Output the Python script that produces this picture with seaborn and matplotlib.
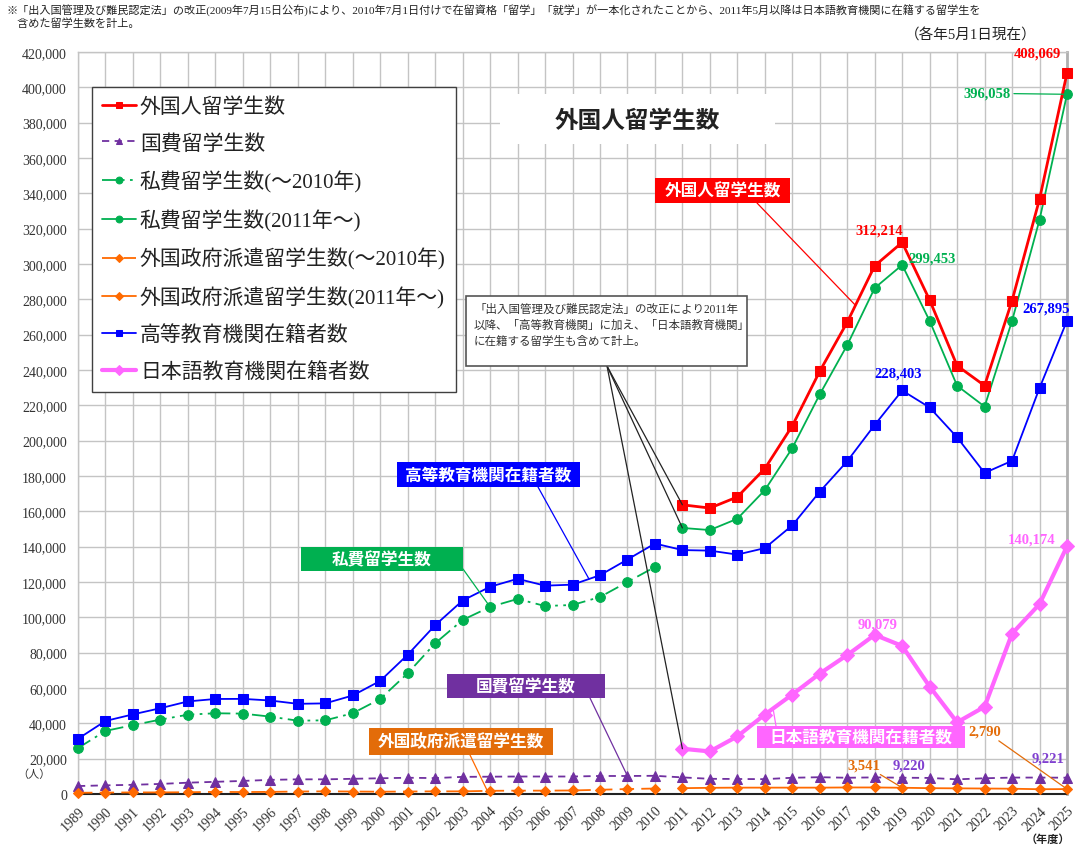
import numpy as np
import pandas as pd
import matplotlib
matplotlib.use("Agg")
import matplotlib.pyplot as plt
import seaborn as sns
from matplotlib.patches import Rectangle
from matplotlib.ticker import FuncFormatter

# ---------------- data ----------------
years = list(range(1989, 2026))
years_pre = list(range(1989, 2011))
years_post = list(range(2011, 2026))

total = [163697, 161848, 168145, 184155, 208379, 239287, 267042, 298980,
         312214, 279597, 242444, 231146, 279274, 336708, 408069]

kokuhi = [4500, 4900, 5200, 5700, 6400, 6900, 7400, 8000, 8300, 8300, 8600,
          8900, 9200, 9000, 9700, 9800, 9900, 9900, 9900, 10200, 10200, 10300,
          9400, 8600, 8500, 8400, 9200, 9500, 9200, 9400, 9220, 9100, 8300,
          8900, 9300, 9300, 9221]

shihi_pre = [26000, 35700, 39000, 42100, 44900, 45700, 45500, 43800, 41500,
             41700, 45700, 53800, 68300, 85300, 98500, 105900, 110400, 106400,
             107000, 111500, 120000, 128500]
shihi_post = [150600, 149400, 155800, 172000, 195800, 226200, 254100, 286400,
              299453, 267800, 231100, 219300, 267800, 325000, 396058]

seifu_pre = [700, 800, 900, 900, 1000, 1200, 1100, 1200, 1400, 1500, 1400,
             1300, 1400, 1500, 1500, 1800, 1900, 1900, 2000, 2400, 2800, 3100]
seifu_post = [3300, 3500, 3600, 3600, 3600, 3600, 3700, 3700, 3541, 3300,
              3200, 3100, 3000, 2700, 2790]

koutou = [31251, 41347, 45066, 48561, 52405, 53787, 53847, 52921, 51047,
          51298, 55755, 64011, 78812, 95550, 109508, 117302, 121812, 117927,
          118498, 123829, 132720, 141774, 138075, 137756, 135519, 139185,
          152062, 171122, 188384, 208901, 228403, 218783, 201877, 181741,
          188600, 229800, 267895]

nihongo = [25622, 24092, 32626, 44970, 56317, 68165, 78658, 90079, 83811,
           60814, 40567, 49405, 90800, 107500, 140174]

labels = ["外国人留学生数", "国費留学生数", "私費留学生数(〜2010年)",
          "私費留学生数(2011年〜)", "外国政府派遣留学生数(〜2010年)",
          "外国政府派遣留学生数(2011年〜)", "高等教育機関在籍者数",
          "日本語教育機関在籍者数"]

# ---------------- style ----------------
sns.set_theme(style="white")
plt.rcParams["font.family"] = ["Liberation Serif", "Noto Sans CJK JP", "DejaVu Sans"]
CJK = ["Noto Sans CJK JP", "DejaVu Sans"]

RED = "#FF0000"
PURPLE = "#7030A0"
GREEN = "#00B050"
ORANGE = "#FF6A00"
BLUE = "#0000FF"
PINK = "#FF66FF"

W, H = 1080, 854
fig = plt.figure(figsize=(W / 100, H / 100), dpi=100)
AX_L, AX_R, AX_T, AX_B = 78, 1067, 53, 795
ax = fig.add_axes([AX_L / W, 1 - AX_B / H, (AX_R - AX_L) / W, (AX_B - AX_T) / H])


def fx(px):
    return px / W


def fy(py):
    return 1 - py / H


def line(x, y, color, marker, ms, lw, ls, label, z=3):
    sns.lineplot(x=x, y=y, ax=ax, color=color, marker=marker, markersize=ms,
                 markeredgecolor=color, markerfacecolor=color,
                 linewidth=lw, linestyle=ls, label=label, errorbar=None,
                 clip_on=False, zorder=z, sort=False)


line(years_post, total, RED, "s", 7, 2.0, "-", labels[0], 4)
line(years, kokuhi, PURPLE, "^", 7, 1.3, (0, (4, 3)), labels[1], 3)
line(years_pre, shihi_pre, GREEN, "o", 7, 1.3, (0, (8, 3, 1.5, 3, 1.5, 3)), labels[2], 3)
line(years_post, shihi_post, GREEN, "o", 7, 1.3, "-", labels[3], 3)
line(years_pre, seifu_pre, ORANGE, "D", 5.5, 1.3, (0, (8, 4)), labels[4], 3)
line(years_post, seifu_post, ORANGE, "D", 5.5, 1.3, "-", labels[5], 3)
line(years, koutou, BLUE, "s", 7, 1.3, "-", labels[6], 3)
line(years_post, nihongo, PINK, "D", 7, 3.0, "-", labels[7], 3)

# ---------------- axes ----------------
ax.set_xlim(1989, 2025)
ax.set_ylim(0, 420000)
ax.set_xticks(years)
ax.set_yticks(np.arange(0, 420001, 20000))
ax.yaxis.set_major_formatter(FuncFormatter(lambda v, p: f"{int(v):,}"))
ax.set_xlabel("")
ax.set_ylabel("")
ax.grid(True, color="#C4C4C4", lw=1)
ax.set_axisbelow(True)
ax.tick_params(axis="both", length=0, labelsize=10, colors="#333333")
ax.tick_params(axis="x", pad=7)
ax.tick_params(axis="y", pad=8)
for t in ax.get_xticklabels():
    t.set_rotation(45)
    t.set_ha("right")
    t.set_rotation_mode("anchor")
for s in ["left", "top"]:
    ax.spines[s].set_color("#C4C4C4")
    ax.spines[s].set_linewidth(1)
ax.spines["right"].set_color("#B0B0B0")
ax.spines["right"].set_linewidth(2)
ax.spines["bottom"].set_color("#222222")
ax.spines["bottom"].set_linewidth(1.5)

# ---------------- legend ----------------
handles = {l.get_label(): l for l in ax.get_lines()}
leg = ax.legend([handles[l] for l in labels], labels, loc="upper left",
                bbox_to_anchor=((92 - AX_L) / (AX_R - AX_L), (AX_B - 88) / (AX_B - AX_T)),
                borderaxespad=0, prop={"size": 15}, labelspacing=0.8,
                handlelength=1.6, handletextpad=0.2, borderpad=0.5,
                fancybox=False, framealpha=1, edgecolor="#404040",
                markerscale=0.7)
leg.get_frame().set_linewidth(1.0)
leg.set_zorder(10)
for t in leg.get_texts():
    t.set_color("#222222")


# ---------------- boxes & annotations ----------------
def box(x0, y0, x1, y1, fc, ec="none", lw=0, z=6):
    r = Rectangle((fx(x0), fy(y1)), fx(x1) - fx(x0), fy(y0) - fy(y1),
                  transform=fig.transFigure, facecolor=fc, edgecolor=ec,
                  linewidth=lw, zorder=z, clip_on=False)
    ax.add_patch(r)


def label_box(text, x0, y0, x1, y1, fc, start, target, lcolor, tc="white", fs=12):
    box(x0, y0, x1, y1, fc)
    ax.text(fx((x0 + x1) / 2), fy((y0 + y1) / 2), text, transform=fig.transFigure,
            ha="center", va="center", color=tc, fontsize=fs, fontweight="bold",
            family=CJK, zorder=7)
    ax.annotate("", xy=target, xycoords="data", xytext=(fx(start[0]), fy(start[1])),
                textcoords="figure fraction",
                arrowprops=dict(arrowstyle="-", color=lcolor, lw=0.9,
                                shrinkA=0, shrinkB=0), zorder=5)


def on_seg(xs, ys, x):
    return (x, float(np.interp(x, xs, ys)))


# title
box(500, 95, 775, 145, "white", z=2)
ax.text(fx(637), fy(121), "外国人留学生数", transform=fig.transFigure,
        ha="center", va="center", fontsize=17, fontweight="bold",
        color="#222222", family=CJK, zorder=7)

label_box("外国人留学生数", 655, 179, 790, 204, RED, (757, 204),
          on_seg(years_post, total, 2017.3), RED)
label_box("高等教育機関在籍者数", 397, 463, 580, 488, BLUE, (538, 488),
          on_seg(years, koutou, 2007.6), BLUE)
label_box("私費留学生数", 301, 548, 463, 572, GREEN, (463, 570),
          (2004, shihi_pre[years_pre.index(2004)]), GREEN)
label_box("国費留学生数", 447, 675, 605, 699, PURPLE, (590, 699),
          (2009, kokuhi[years.index(2009)]), PURPLE)
label_box("外国政府派遣留学生数", 369, 729, 553, 756, "#E36C09", (470, 756),
          (2003.9, seifu_pre[years_pre.index(2004)]), ORANGE)
label_box("日本語教育機関在籍者数", 757, 727, 965, 749, PINK, (776, 727),
          on_seg(years_post, nihongo, 2014.3), PINK)

# note box
box(466, 297, 747, 367, "white", ec="#555555", lw=1.2, z=6)
ax.text(fx(474), fy(304), "「出入国管理及び難民認定法」の改正により2011年\n"
        "以降、「高等教育機関」に加え、「日本語教育機関」\n"
        "に在籍する留学生も含めて計上。", transform=fig.transFigure,
        ha="left", va="top", fontsize=8.3, color="#333333", linespacing=1.45,
        zorder=7)
for tgt in [(2011, total[0]), (2011, shihi_post[0]), (2011, nihongo[0])]:
    ax.annotate("", xy=tgt, xycoords="data", xytext=(fx(607), fy(367)),
                textcoords="figure fraction",
                arrowprops=dict(arrowstyle="-", color="#222222", lw=0.9,
                                shrinkA=0, shrinkB=0), zorder=5)


# value labels
def vlabel(val, x, y, dx, dy, color, lead=False):
    kw = {}
    if lead:
        kw["arrowprops"] = dict(arrowstyle="-", color=color, lw=0.9,
                                shrinkA=0, shrinkB=2)
    ax.annotate(f"{val:,}", xy=(x, y), xytext=(dx * 0.72, dy * 0.72),
                textcoords="offset points", ha="center", va="center",
                fontsize=10.5, fontweight="bold", color=color, zorder=8,
                annotation_clip=False, **kw)


vlabel(total[-1], 2025, total[-1], -30, 20, RED)
vlabel(shihi_post[-1], 2025, shihi_post[-1], -80, 1, GREEN, lead=True)
i19 = years_post.index(2019)
vlabel(total[i19], 2019, total[i19], -23, 12, RED)
vlabel(shihi_post[i19], 2019, shihi_post[i19], 30, 7, GREEN)
vlabel(koutou[-1], 2025, koutou[-1], -21, 13, BLUE)
vlabel(koutou[years.index(2019)], 2019, koutou[years.index(2019)], -4, 17, BLUE)
vlabel(nihongo[-1], 2025, nihongo[-1], -35, 7, PINK)
i18 = years_post.index(2018)
vlabel(nihongo[i18], 2018, nihongo[i18], 3, 11, PINK)
vlabel(seifu_post[i19], 2019, seifu_post[i19], -38, 23, "#E36C09", lead=True)
vlabel(kokuhi[years.index(2019)], 2019, kokuhi[years.index(2019)], 7, 13, "#8040D0")
vlabel(seifu_post[-1], 2025, seifu_post[-1], -82, 58, "#E36C09", lead=True)
vlabel(kokuhi[-1], 2025, kokuhi[-1], -19, 20, "#8040D0")

# ---------------- texts ----------------
fig.text(fx(6), fy(5), "※「出入国管理及び難民認定法」の改正(2009年7月15日公布)により、2010年7月1日付けで在留資格「留学」「就学」が一本化されたことから、2011年5月以降は日本語教育機関に在籍する留学生を\n"
         "　含めた留学生数を計上。", ha="left", va="top", fontsize=8,
         color="#222222", linespacing=1.2)
fig.text(fx(1037), fy(36), "（各年5月1日現在）", ha="right", va="center",
         fontsize=10.5, color="#222222")
fig.text(fx(34), fy(775), "（人）", ha="center", va="center", fontsize=8,
         color="#333333")
fig.text(fx(1048), fy(840), "（年度）", ha="center", va="center", fontsize=8,
         fontweight="bold", color="#222222")

fig.savefig("out.png", dpi=100)
